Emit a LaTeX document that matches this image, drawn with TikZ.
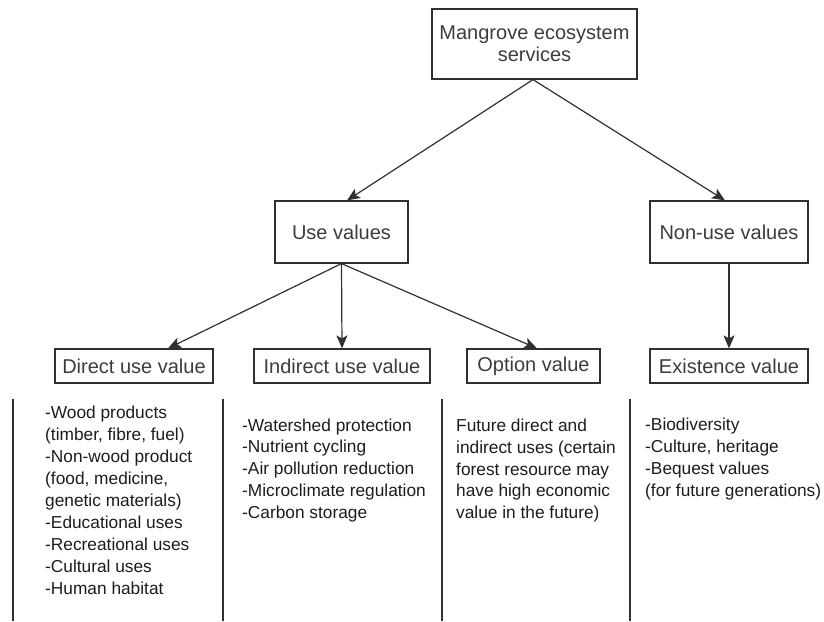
\documentclass[tikz,border=0pt]{standalone}
\usepackage{fontspec}
\setmainfont{Liberation Sans}
\usetikzlibrary{arrows.meta}
\definecolor{linegray}{HTML}{303030}
\definecolor{boxtext}{HTML}{3C3C3C}
\definecolor{bodytext}{HTML}{1C1C1C}
\tikzset{
  valuebox/.style={draw=linegray, line width=1.2pt, inner sep=0pt,
    text=boxtext, font=\fontsize{20}{22}\selectfont, align=center},
  link/.style={draw=linegray, line width=1.2pt,
    -{Stealth[length=13pt, width=11pt, inset=3pt]}},
  divider/.style={draw=linegray, line width=1.3pt},
  item/.style={anchor=base west, inner sep=0pt, text=bodytext,
    font=\fontsize{17.3}{22}\selectfont}
}
\begin{document}
\begin{tikzpicture}[x=1pt, y=-1pt]
\useasboundingbox (0,0) rectangle (824,621);

% hierarchy of value boxes
\node[valuebox, minimum width=205pt, minimum height=70pt] (top) at (534.5,44)
  {Mangrove ecosystem\\services};
\node[valuebox, minimum width=133pt, minimum height=62pt] (use) at (341.5,232) {Use values};
\node[valuebox, minimum width=158pt, minimum height=62pt] (nonuse) at (729,232) {Non-use values};
\node[valuebox, minimum width=158pt, minimum height=34pt] (direct) at (134,366) {Direct use value};
\node[valuebox, minimum width=176pt, minimum height=34pt] (indirect) at (342,366) {Indirect use value};
\node[valuebox, minimum width=133pt, minimum height=34pt] (option) at (533.5,366) {Option value};
\node[valuebox, minimum width=158pt, minimum height=34pt] (exist) at (729,366) {Existence value};

% arrows
\draw[link] ([xshift=-1.5pt]top.south) -- ([xshift=5.5pt]use.north);
\draw[link] ([xshift=-1.5pt]top.south) -- ([xshift=-4pt]nonuse.north);
\draw[link] (use.south) -- ([xshift=34pt]direct.north);
\draw[link] (use.south) -- (indirect.north);
\draw[link] (use.south) -- ([xshift=3.5pt]option.north);
\draw[link] (nonuse.south) -- (exist.north);

% column dividers
\draw[divider] (13,399) -- (13,621);
\draw[divider] (223,399) -- (223,621);
\draw[divider] (442,399) -- (442,621);
\draw[divider] (630,399) -- (630,621);

% column texts
\foreach \t [count=\i] in {-Wood products, {(timber, fibre, fuel)}, -Non-wood product,
    {(food, medicine,}, genetic materials), -Educational uses, -Recreational uses,
    -Cultural uses, -Human habitat}
  \node[item] (d\i) at (45, 418+22*\i-22) {\t};

\foreach \t [count=\i] in {-Watershed protection, -Nutrient cycling,
    -Air pollution reduction, -Microclimate regulation, -Carbon storage}
  \node[item] (n\i) at (242, 431+21.8*\i-21.8) {\t};

\foreach \t [count=\i] in {Future direct and, indirect uses (certain,
    forest resource may, have high economic, value in the future)}
  \node[item] (o\i) at (456, 431.5+21.8*\i-21.8) {\t};

\foreach \t [count=\i] in {-Biodiversity, {-Culture, heritage}, -Bequest values,
    (for future generations)}
  \node[item] (e\i) at (645, 430+22.2*\i-22.2) {\t};
\end{tikzpicture}
\end{document}
